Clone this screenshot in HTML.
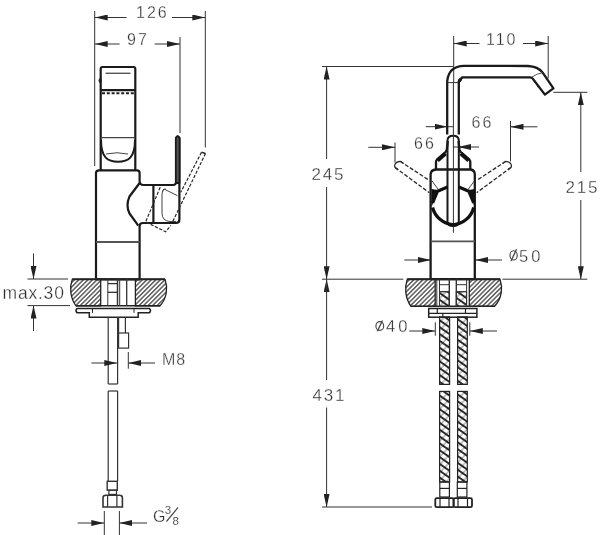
<!DOCTYPE html>
<html><head><meta charset="utf-8">
<style>
html,body{margin:0;padding:0;background:#fff;}
svg{display:block;will-change:transform;}
text{font-family:"Liberation Sans",sans-serif;fill:#2e2e2e;stroke:#fff;stroke-width:0.3px;}
</style></head>
<body>
<svg width="600" height="535" viewBox="0 0 600 535">
<defs>
<marker id="ar" viewBox="0 0 13 6" refX="13" refY="3" markerWidth="13" markerHeight="6" markerUnits="userSpaceOnUse" orient="auto-start-reverse">
<path d="M0,0 L13,3 L0,6 Z" fill="#222"/>
</marker>
<pattern id="hatch" patternUnits="userSpaceOnUse" width="3.2" height="5" patternTransform="rotate(45)">
<line x1="0.8" y1="0" x2="0.8" y2="5" stroke="#4a4a4a" stroke-width="1.35"/>
</pattern>
<pattern id="braid" patternUnits="userSpaceOnUse" width="5.6" height="6" patternTransform="rotate(-55)">
<line x1="1" y1="0" x2="1" y2="6" stroke="#222" stroke-width="1.9"/>
</pattern>
<pattern id="braid2" patternUnits="userSpaceOnUse" width="5.6" height="6" patternTransform="rotate(45)">
<line x1="1" y1="0" x2="1" y2="6" stroke="#666" stroke-width="0.8"/>
</pattern>
</defs>

<!-- ============ LEFT DRAWING ============ -->
<g stroke="#333" stroke-width="1" fill="none">
<line x1="94.7" y1="11" x2="94.7" y2="166"/>
<line x1="205.3" y1="11" x2="205.3" y2="147.5"/>
<line x1="94.7" y1="17.5" x2="126.5" y2="17.5" marker-start="url(#ar)"/>
<line x1="172" y1="17.5" x2="205.3" y2="17.5" marker-end="url(#ar)"/>
<line x1="180" y1="37" x2="180" y2="133"/>
<line x1="94.7" y1="44" x2="119.6" y2="44" marker-start="url(#ar)"/>
<line x1="154.6" y1="44" x2="180" y2="44" marker-end="url(#ar)"/>
</g>
<text x="136" y="18" font-size="16" letter-spacing="2">126</text>
<text x="127" y="45" font-size="16" letter-spacing="2">97</text>

<!-- head -->
<g stroke="#1a1a1a" stroke-width="2.2" fill="none" stroke-linejoin="round">
<path d="M100.7,170 L100.7,68.8 Q100.7,67 102.5,67 L133.5,67 Q135.3,67 135.3,68.8 L135.3,170"/>
<line x1="100.7" y1="90.2" x2="135.3" y2="90.2"/>
<path d="M101,140 C101,158 108,161.7 118,161.7 C128,161.7 135,158 135,140" stroke-width="2"/>
</g>
<g stroke="#444" stroke-width="1" fill="none">
<line x1="105.5" y1="73.3" x2="130.5" y2="73.3" stroke-width="1.4" stroke="#555"/>
<line x1="102" y1="93.2" x2="135" y2="93.2" stroke-dasharray="3,1.8" stroke-width="1.9" stroke="#222"/>
<ellipse cx="100.2" cy="80.5" rx="1.6" ry="2.6" fill="#222" stroke="none"/>
<line x1="100.7" y1="137.6" x2="135.3" y2="137.6" stroke-width="1.2"/>
<path d="M106,154 Q117,151.5 128,154"/>
</g>
<!-- body -->
<g stroke="#1a1a1a" stroke-width="2.2" fill="none" stroke-linejoin="round">
<path d="M139.6,226 L139.6,279.3 L96,279.3 L96,173 Q96,170.3 99,170.3 L137,170.3 Q139.6,170.3 139.6,173 L139.6,181 Q139.6,185 143.5,185 L173,185 Q176.3,185 176.3,181 L176.3,138 Q177.8,135 179.4,138 L179.4,219.5 Q179.4,223 176,223 L143,223 Q139.6,223 139.6,226"/>
<path d="M139.6,183 L129.5,196.5 Q125.5,205.5 129.5,213.5 L138.3,225.6"/>
<path d="M175.8,183 L175.8,138 Q177.6,134.5 179.5,138 L179.5,183 Z" fill="#555" stroke-width="1.8"/>
<line x1="153.4" y1="185" x2="153.4" y2="223"/>
</g>
<g stroke="#444" stroke-width="1" fill="none">
<line x1="96" y1="242" x2="139.6" y2="242" stroke-width="1.8" stroke="#555"/>
<path d="M164,189 L177.5,195.7 M164,189 Q162,190 162,195 L162,213 Q162,221 170,221.5 L176,221.5"/>
<path d="M162.5,192 Q163,188.5 166,189"/>
<!-- dashed lever -->
<path d="M201.5,152.3 L180.8,192.2 M205.5,153.5 L172.5,222 M160.2,187.3 L145.6,222 L165.7,231.7 L170.8,225.5" stroke-dasharray="3.2,1.6" stroke="#2a2a2a" stroke-width="1.2"/>
<path d="M201.5,152.3 L205.5,153.5" stroke="#2a2a2a" stroke-width="1.5"/>
</g>

<!-- countertop left -->
<path d="M72.3,279.3 L100.7,279.3 L100.7,305.8 L76,305.8 C70,298 69.5,287 72.3,279.3 Z" fill="url(#hatch)" stroke="#222" stroke-width="1.3"/>
<path d="M135.4,279.3 L165,279.3 C167.8,287 167.3,298 160,305.8 L135.4,305.8 Z" fill="url(#hatch)" stroke="#222" stroke-width="1.3"/>
<g stroke="#222" stroke-width="2" fill="none">
<line x1="72.3" y1="279.3" x2="165" y2="279.3"/>
<line x1="76" y1="305.8" x2="160" y2="305.8" stroke-width="1.6"/>
</g>
<g stroke="#333" stroke-width="1" fill="none">
<line x1="107.8" y1="279" x2="107.8" y2="306"/>
<line x1="117.5" y1="279" x2="117.5" y2="306" stroke-width="1.5"/>
<line x1="119.7" y1="279" x2="119.7" y2="306"/>
<line x1="126.7" y1="279" x2="126.7" y2="306" stroke-width="1.3"/>
<line x1="107.8" y1="283.6" x2="117.5" y2="283.6" stroke-width="1.3"/>
<line x1="107.8" y1="292.3" x2="117.5" y2="292.3" stroke-width="1.3"/>
</g>
<g stroke="#222" stroke-width="1.5" fill="none">
<path d="M77,308.5 L149.5,308.5 Q151.5,310.5 149.5,312.8 L138.2,312.8 L138.2,317.2 L89.3,317.2 L89.3,312.8 L77,312.8 Q75,310.5 77,308.5 Z"/>
<line x1="92.5" y1="308.5" x2="92.5" y2="312.8" stroke-width="1"/>
<line x1="134" y1="308.5" x2="134" y2="312.8" stroke-width="1"/>
</g>
<g stroke="#333" stroke-width="1.2" fill="none">
<line x1="108.2" y1="317" x2="108.2" y2="384"/>
<line x1="117.6" y1="317" x2="117.6" y2="384"/>
<line x1="108.2" y1="384" x2="117.6" y2="384"/>
<line x1="108.2" y1="391" x2="108.2" y2="481"/>
<line x1="117.6" y1="391" x2="117.6" y2="481"/>
<line x1="108.2" y1="391" x2="117.6" y2="391"/>
<line x1="118.4" y1="317" x2="118.4" y2="348" stroke-width="1.6"/>
<line x1="125.4" y1="317" x2="125.4" y2="333"/>
<rect x="117.8" y="333" width="10.8" height="15.1"/>
<rect x="107.2" y="481.3" width="10.1" height="8.9" stroke-width="1.4"/>
<rect x="108.9" y="490.2" width="7.6" height="4.2" stroke-width="1.2"/>
<path d="M103,497.5 Q103,495.2 106,495.2 L119.4,495.2 Q122.4,495.2 122.4,497.5 L122.4,507 L103,507 Z" stroke-width="1.6"/>
<line x1="107.6" y1="495.2" x2="107.6" y2="507"/>
<line x1="116.9" y1="495.2" x2="116.9" y2="507"/>
</g>
<!-- max.30 -->
<g stroke="#333" stroke-width="1" fill="none">
<line x1="27.5" y1="279" x2="68" y2="279"/>
<line x1="27.5" y1="305.6" x2="70" y2="305.6"/>
<line x1="33.5" y1="253.5" x2="33.5" y2="279" marker-end="url(#ar)"/>
<line x1="33.5" y1="331" x2="33.5" y2="305.6" marker-end="url(#ar)"/>
<!-- M8 -->
<line x1="128.3" y1="352" x2="128.3" y2="368.7"/>
<line x1="91.4" y1="363" x2="117.3" y2="363" marker-end="url(#ar)"/>
<line x1="155" y1="363" x2="128.3" y2="363" marker-end="url(#ar)"/>
<!-- G3/8 -->
<line x1="104.3" y1="511" x2="104.3" y2="535"/>
<line x1="119.4" y1="511" x2="119.4" y2="535"/>
<line x1="77.7" y1="523" x2="104.3" y2="523" marker-end="url(#ar)"/>
<line x1="147" y1="523" x2="119.4" y2="523" marker-end="url(#ar)"/>
</g>
<text x="2.5" y="299" font-size="17.5" letter-spacing="0.8">max.30</text>
<text x="162" y="364.5" font-size="16" letter-spacing="1">M8</text>
<text x="153" y="521.5" font-size="16">G</text>
<text x="164.8" y="514" font-size="11.5" style="stroke-width:0.15px">3</text>
<text x="172.5" y="524.5" font-size="11.5" style="stroke-width:0.15px">8</text>
<line x1="166.5" y1="521.5" x2="178" y2="507.5" stroke="#4a4a4a" stroke-width="1.2"/>

<!-- ============ RIGHT DRAWING ============ -->
<g stroke="#333" stroke-width="1" fill="none">
<line x1="322" y1="66.5" x2="453" y2="66.5"/>
<line x1="322" y1="279.2" x2="403.3" y2="279.2"/>
<line x1="326.6" y1="159" x2="326.6" y2="66.5" marker-end="url(#ar)"/>
<line x1="326.6" y1="187" x2="326.6" y2="279.2" marker-end="url(#ar)"/>
<line x1="326.6" y1="292.5" x2="326.6" y2="279.2" marker-end="url(#ar)"/>
<line x1="326.6" y1="280" x2="326.6" y2="380"/>
<line x1="326.6" y1="407.5" x2="326.6" y2="507" marker-end="url(#ar)"/>
<line x1="322" y1="507" x2="432" y2="507"/>
<line x1="453.7" y1="36" x2="453.7" y2="83"/>
<line x1="548.2" y1="36" x2="548.2" y2="78.4"/>
<line x1="453.7" y1="43.5" x2="479.5" y2="43.5" marker-start="url(#ar)"/>
<line x1="523" y1="43.5" x2="548.2" y2="43.5" marker-end="url(#ar)"/>
<line x1="553.3" y1="92.3" x2="587.3" y2="92.3"/>
<line x1="502.5" y1="279.2" x2="587.3" y2="279.2"/>
<line x1="580.8" y1="172" x2="580.8" y2="92.3" marker-end="url(#ar)"/>
<line x1="580.8" y1="200" x2="580.8" y2="279.2" marker-end="url(#ar)"/>
<line x1="368.3" y1="147.3" x2="395" y2="147.3" marker-end="url(#ar)"/>
<line x1="395" y1="142.5" x2="395" y2="162.5"/>
<line x1="425.8" y1="126.7" x2="447.5" y2="126.7" marker-end="url(#ar)"/>
<line x1="447.5" y1="126.7" x2="453.5" y2="126.7"/>
<line x1="537.4" y1="126.8" x2="510.5" y2="126.8" marker-end="url(#ar)"/>
<line x1="510.5" y1="121" x2="510.5" y2="161.3"/>
<line x1="479" y1="147" x2="458" y2="147" marker-end="url(#ar)"/>
<line x1="458" y1="147" x2="453" y2="147"/>
<line x1="404.3" y1="260" x2="431" y2="260" marker-end="url(#ar)"/>
<line x1="502" y1="260" x2="475.3" y2="260" marker-end="url(#ar)"/>
<line x1="435.3" y1="322.3" x2="435.3" y2="335.7"/>
<line x1="469.8" y1="322.3" x2="469.8" y2="335.7"/>
<line x1="409.3" y1="331" x2="435.3" y2="331" marker-end="url(#ar)"/>
<line x1="497" y1="331" x2="469.8" y2="331" marker-end="url(#ar)"/>
</g>
<text x="311.5" y="179.5" font-size="17" letter-spacing="1.8">245</text>
<text x="312.5" y="400.5" font-size="17" letter-spacing="1.8">431</text>
<text x="486" y="45" font-size="16" letter-spacing="2">110</text>
<text x="565.5" y="192.7" font-size="17" letter-spacing="1.8">215</text>
<text x="414" y="148.5" font-size="16" letter-spacing="2">66</text>
<text x="471.5" y="128" font-size="16" letter-spacing="2">66</text>
<text x="519" y="261.6" font-size="16.5" letter-spacing="3">50</text><ellipse cx="513.6" cy="255.4" rx="3.6" ry="4.6" fill="none" stroke="#444" stroke-width="1.1"/><line x1="511" y1="261" x2="516.5" y2="249.3" stroke="#444" stroke-width="1.3"/>
<text x="386" y="332.4" font-size="16.5" letter-spacing="3">40</text><ellipse cx="379.8" cy="326" rx="3.9" ry="4.4" fill="none" stroke="#444" stroke-width="1.1"/><line x1="377.3" y1="331.2" x2="382.5" y2="320.5" stroke="#444" stroke-width="1.3"/>

<!-- spout -->
<g stroke="#1a1a1a" stroke-width="2.3" fill="none" stroke-linejoin="round">
<path d="M447.2,134.5 L447.2,81.5 Q448.5,66 464,65.8 L528,66 Q538,66.5 542.7,72.6 L553.4,88.3 L544.9,94.6 L532.8,78.7 Q531.8,77.3 530,77.3 L462.5,77.3 L458.8,81.5 L458.8,134.5"/>
<path d="M447.5,223 L447.5,140.5 Q447.5,135.7 453.2,135.7 Q458.8,135.7 458.8,140.5 L458.8,223" stroke-width="2"/>
</g>
<g stroke="#333" stroke-width="1" fill="none">
<line x1="447.1" y1="82.6" x2="458.4" y2="82.6"/>
<path d="M458.3,83 L458.5,79.5 L462,77 L461,81 Z" fill="#1a1a1a" stroke="#1a1a1a" stroke-width="1"/>
<path d="M532,77 Q537,73.5 542.7,72.8" stroke="#555"/><circle cx="538" cy="86" r="1.2" fill="#222" stroke="none"/>
</g>
<!-- flare + body -->
<g stroke="#1a1a1a" stroke-width="2.3" fill="none" stroke-linejoin="round">
<path d="M447.8,141 L446.8,149.5 Q446.5,151 445.5,152 L437,159.5 Q436,160.5 436,162 L436,169.5 L470.3,169.5 L470.3,162 Q470.3,160.5 469.3,159.5 L460.8,152 Q459.8,151 459.5,149.5 L458.5,141"/>
<path d="M430.6,279.2 L430.6,174.5 Q430.6,170 436,169.5 M470.3,169.5 Q474.8,170 474.8,174.5 L474.8,279.2 L430.6,279.2"/>
</g>
<g stroke="#111" stroke-width="4.2" fill="none" stroke-linecap="butt">
<path d="M445.5,153.5 L437.5,160.5"/>
<path d="M460.8,153.5 L468.8,160.5"/>
</g>
<g stroke="#333" stroke-width="1" fill="none">
<line x1="430.6" y1="241.3" x2="474.8" y2="241.3" stroke-width="1.8" stroke="#555"/>
<line x1="453.4" y1="83" x2="453.4" y2="232.8"/>
<path d="M447.5,222 Q447.5,226 453.2,226 Q458.8,226 458.8,222" stroke-width="2" stroke="#1a1a1a"/>
<!-- dashed levers -->
<path d="M400.2,161.3 L429.3,180.4 M395.1,167.5 L429.3,192.7" stroke-dasharray="4,1.8" stroke="#2a2a2a" stroke-width="1.3"/>
<path d="M403.5,163.5 L400.2,161.3 Q396.5,161.5 395.1,164 Q394,166 395.1,167.5 L398,169.6" stroke="#2a2a2a" stroke-width="1.3"/>
<path d="M505.8,161.3 L476.7,180.4 M510.9,167.5 L476.7,192.7" stroke-dasharray="4,1.8" stroke="#2a2a2a" stroke-width="1.3"/>
<path d="M502.5,163.5 L505.8,161.3 Q509.5,161.5 510.9,164 Q512,166 510.9,167.5 L508,169.6" stroke="#2a2a2a" stroke-width="1.3"/>
</g>
<g stroke="#111" stroke-width="3.2" fill="none" stroke-linecap="butt">
<path d="M447.5,187 L437.5,191.2 L432.6,203"/>
<path d="M458.8,187 L468.8,191.2 L473.7,203"/>
<path d="M432.6,207.5 C435,217 443,223.8 453.2,224.8 C463.4,223.8 471.4,217 473.7,207.5"/>
</g>
<path d="M431.5,189 L437.5,190 L432,206 L431.5,206 Z M474.8,189 L468.8,190 L474.3,206 L474.8,206 Z" fill="#111"/>
<path d="M432,181 Q435,185 438,189 M474.3,181 Q471.3,185 468.3,189" stroke="#444" stroke-width="1" fill="none"/>

<!-- countertop right -->
<path d="M407.3,279.2 L435.2,279.2 L435.2,306.3 L411,306.3 C405,298 404.5,287 407.3,279.2 Z" fill="url(#hatch)" stroke="#222" stroke-width="1.3"/>
<path d="M469.3,279.2 L500,279.2 C502.8,287 502.3,298 494.5,306.3 L469.3,306.3 Z" fill="url(#hatch)" stroke="#222" stroke-width="1.3"/>
<g stroke="#222" stroke-width="2" fill="none">
<line x1="407.3" y1="279.2" x2="500" y2="279.2"/>
<line x1="411" y1="306.3" x2="494.5" y2="306.3" stroke-width="1.6"/>
</g>
<g stroke="#333" stroke-width="1" fill="none">
<rect x="439.5" y="291.7" width="9.8" height="14.6" fill="url(#braid2)" stroke="none"/>
<rect x="439.5" y="291.7" width="9.8" height="14.6" fill="url(#braid)"/>
<rect x="456.3" y="291.7" width="10.3" height="14.6" fill="url(#braid2)" stroke="none"/>
<rect x="456.3" y="291.7" width="10.3" height="14.6" fill="url(#braid)"/>
<line x1="436.8" y1="279.2" x2="436.8" y2="306.3"/>
<line x1="439.5" y1="279.2" x2="439.5" y2="306.3"/>
<line x1="449.3" y1="279.2" x2="449.3" y2="306.3" stroke-width="1.4"/>
<line x1="456.3" y1="279.2" x2="456.3" y2="306.3" stroke-width="1.4"/>
<line x1="466.6" y1="279.2" x2="466.6" y2="306.3"/>
<line x1="439.5" y1="284.7" x2="449.3" y2="284.7"/>
<line x1="456.3" y1="284.7" x2="466.6" y2="284.7"/>
<line x1="439.5" y1="291.7" x2="449.3" y2="291.7"/>
<line x1="456.3" y1="291.7" x2="466.6" y2="291.7"/>
</g>
<g stroke="#222" stroke-width="1.5" fill="none">
<rect x="428.7" y="308.5" width="48.2" height="8.7"/>
<line x1="428.7" y1="313.4" x2="476.9" y2="313.4" stroke-width="1.2"/>
<line x1="437.3" y1="308.5" x2="437.3" y2="313.4" stroke-width="1.2"/>
<line x1="465.5" y1="308.5" x2="465.5" y2="313.4" stroke-width="1.2"/>
<line x1="442.8" y1="313.4" x2="442.8" y2="317.2" stroke-width="1.2"/>
</g>
<g stroke="#222" stroke-width="1.2" fill="none">
<rect x="439.6" y="317" width="10" height="67.4" fill="url(#braid2)" stroke="none"/>
<rect x="439.6" y="317" width="10" height="67.4" fill="url(#braid)"/>
<rect x="457.6" y="317" width="9.7" height="67.4" fill="url(#braid2)" stroke="none"/>
<rect x="457.6" y="317" width="9.7" height="67.4" fill="url(#braid)"/>
<rect x="439.6" y="391.4" width="10" height="90.6" fill="url(#braid2)" stroke="none"/>
<rect x="439.6" y="391.4" width="10" height="90.6" fill="url(#braid)"/>
<rect x="457.6" y="391.4" width="9.7" height="90.6" fill="url(#braid2)" stroke="none"/>
<rect x="457.6" y="391.4" width="9.7" height="90.6" fill="url(#braid)"/>
<rect x="439.8" y="482" width="9.6" height="15"/>
<rect x="457.3" y="482" width="9.6" height="15"/>
<line x1="439.8" y1="488.4" x2="449.4" y2="488.4"/>
<line x1="457.3" y1="488.4" x2="466.9" y2="488.4"/>
<rect x="435.3" y="498.2" width="18.3" height="9" rx="1.5" stroke-width="1.8"/>
<rect x="453.6" y="498.2" width="18.4" height="9" rx="1.5" stroke-width="1.8"/>
<line x1="440" y1="498.2" x2="440" y2="507.2"/>
<line x1="449" y1="498.2" x2="449" y2="507.2"/>
<line x1="458" y1="498.2" x2="458" y2="507.2"/>
<line x1="467.5" y1="498.2" x2="467.5" y2="507.2"/>
</g>
</svg>
</body></html>
